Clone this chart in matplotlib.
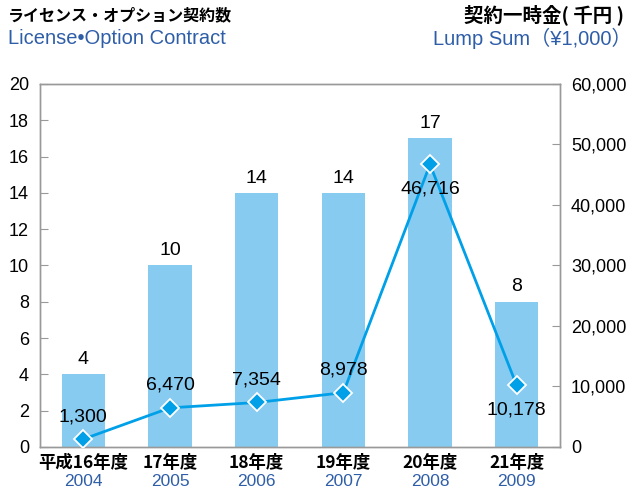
import matplotlib.pyplot as plt
from matplotlib.ticker import FuncFormatter
from matplotlib.transforms import blended_transform_factory

# データ
nendo = ['平成16年度', '17年度', '18年度', '19年度', '20年度', '21年度']
years = ['2004', '2005', '2006', '2007', '2008', '2009']
contracts = [4, 10, 14, 14, 17, 8]
lump_sum = [1300, 6470, 7354, 8978, 46716, 10178]
# 金額ラベルを点の上に置くか下に置くか
label_below = [False, False, False, False, True, True]

JP = ['Noto Sans CJK JP', 'DejaVu Sans']
EN = ['Liberation Sans', 'DejaVu Sans']
blue_txt = '#2F5EA8'
bar_c = '#88CBF1'
line_c = '#00A0E9'
gray = '#999999'

fig = plt.figure(figsize=(6.36, 4.92), dpi=100)
ax = fig.add_axes([0.0629, 0.0915, 0.8176, 0.7378])
ax2 = ax.twinx()

x = list(range(len(contracts)))
ax.bar(x, contracts, width=0.5, color=bar_c, zorder=1)
ax.set_xlim(-0.5, 5.5)
ax.set_ylim(0, 20)
ax.set_yticks(range(0, 21, 2))
for xi, v in zip(x, contracts):
    ax.text(xi, v + 0.35, str(v), ha='center', va='bottom', fontsize=14, family=EN)

ax2.plot(x, lump_sum, color=line_c, lw=2, marker='D', ms=9,
         mfc=line_c, mec='white', mew=1.3, zorder=3)
ax2.set_ylim(0, 60000)
ax2.set_yticks(range(0, 60001, 10000))
ax2.yaxis.set_major_formatter(FuncFormatter(lambda v, p: f'{int(v):,}'))
for xi, v, below in zip(x, lump_sum, label_below):
    if below:
        ax2.text(xi, v - 2600, f'{v:,}', ha='center', va='top', fontsize=14, family=EN)
    else:
        ax2.text(xi, v + 2300, f'{v:,}', ha='center', va='bottom', fontsize=14, family=EN)

for a in (ax, ax2):
    for s in a.spines.values():
        s.set_color(gray)
        s.set_linewidth(1)
    a.tick_params(direction='in', length=6, color=gray, labelsize=13, pad=8)
    for lab in a.get_yticklabels():
        lab.set_family(EN)

ax.set_xticks([])
trans = blended_transform_factory(ax.transData, fig.transFigure)
for xi, n, y in zip(x, nendo, years):
    ax.text(xi, 1 - 463 / 492, n, ha='center', va='center', fontsize=12.5,
            fontweight='bold', family=JP, transform=trans)
    ax.text(xi, 1 - 482 / 492, y, ha='center', va='center', fontsize=12.5,
            color=blue_txt, family=EN, transform=trans)

# 見出し
fig.text(8 / 636, 1 - 15 / 492, 'ライセンス・オプション契約数', ha='left', va='center',
         fontsize=11.5, fontweight='bold', family=JP)
fig.text(8 / 636, 1 - 38 / 492, 'License•Option Contract', ha='left', va='center',
         fontsize=14.5, color=blue_txt, family=EN)
fig.text(624 / 636, 1 - 15 / 492, '契約一時金( 千円 )', ha='right', va='center',
         fontsize=14, fontweight='bold', family=JP)
fig.text(632 / 636, 1 - 38 / 492, 'Lump Sum（¥1,000）', ha='right', va='center',
         fontsize=14.5, color=blue_txt, family=['Liberation Sans', 'Noto Sans CJK JP'])

fig.savefig('out.png', dpi=100)
